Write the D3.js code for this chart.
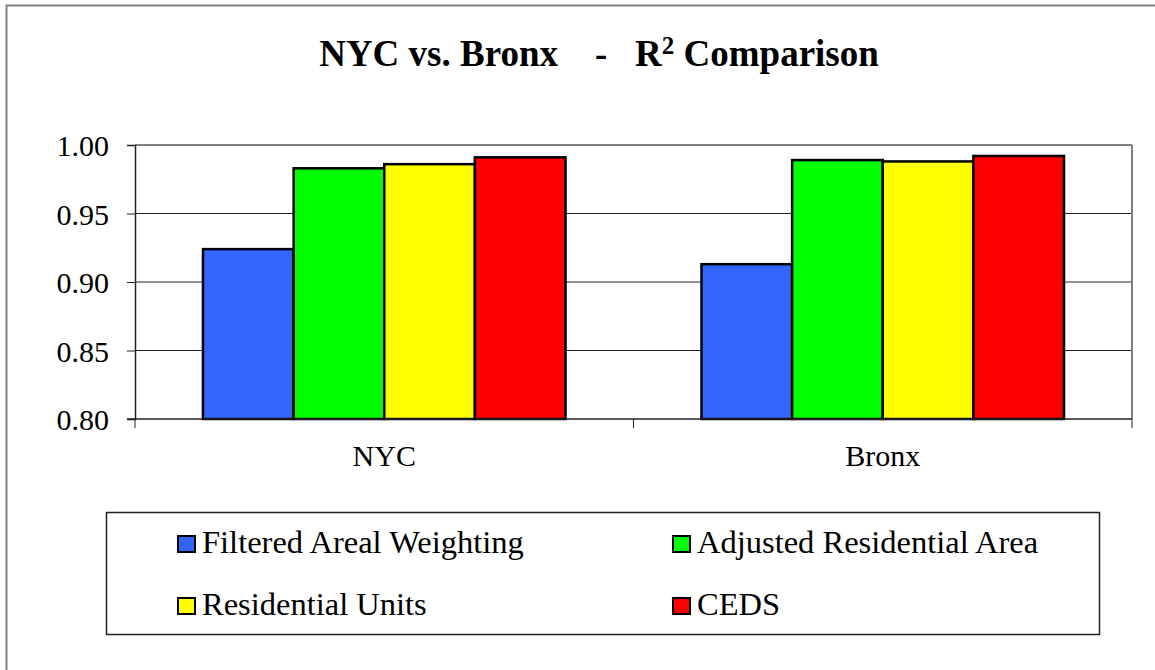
<!DOCTYPE html>
<html>
<head>
<meta charset="utf-8">
<script src="https://cdn.jsdelivr.net/npm/d3@7"></script>
<style>
  body { margin: 0; background: #fff; }
  svg text { font-family: "Liberation Serif", "Times New Roman", serif; fill: #000; }
</style>
</head>
<body>
<svg width="1155" height="670"></svg>
<script>
// data
let categories = ["NYC", "Bronx"];
let series = ["Filtered Areal Weighting", "Adjusted Residential Area", "Residential Units", "CEDS"];
let colors = ["#3366FF", "#00FF00", "#FFFF00", "#FF0000"];
let nycValues = [0.924, 0.983, 0.986, 0.991];
let bronxValues = [0.913, 0.989, 0.988, 0.992];
let yTicks = [0.80, 0.85, 0.90, 0.95, 1.00];

let values = [nycValues, bronxValues];

let width = 1155, height = 670,
    svg = d3.select("svg");

let plotLeft = 135, plotRight = 1132, plotTop = 145, plotBottom = 419;

// outer chart border (right/bottom are off the picture)
svg.append("rect")
    .attr("x", 6.5).attr("y", 5.5)
    .attr("width", 1200).attr("height", 700)
    .attr("fill", "none")
    .attr("stroke", "#808080")
    .attr("stroke-width", 2);

// title
let title = svg.append("text")
    .attr("x", 599).attr("y", 66)
    .attr("text-anchor", "middle")
    .attr("font-weight", "bold")
    .attr("font-size", 37)
    .style("white-space", "pre");
title.append("tspan").text("NYC vs. Bronx    -   R");
title.append("tspan").attr("dy", -12).attr("font-size", 25).text("2");
title.append("tspan").attr("dy", 12).text(" Comparison");

let x0 = d3.scaleBand().domain(categories).range([plotLeft, plotRight]);
let bw = x0.bandwidth(), barW = bw / 5.5;
let x1 = d3.scaleBand().domain(series).range([barW * 0.75, bw - barW * 0.75]);
let y = d3.scaleLinear().domain([0.8, 1.0]).range([plotBottom, plotTop]);

// gridlines
svg.append("g")
    .selectAll("line")
    .data(yTicks.slice(1))
    .enter().append("line")
    .attr("x1", plotLeft).attr("x2", plotRight)
    .attr("y1", d => y(d)).attr("y2", d => y(d))
    .attr("stroke", d => d === 1.0 ? "#808080" : "#222")
    .attr("stroke-width", d => d === 1.0 ? 2 : 1);

// right border of plot area
svg.append("line")
    .attr("x1", plotRight).attr("x2", plotRight)
    .attr("y1", plotTop).attr("y2", plotBottom)
    .attr("stroke", "#808080").attr("stroke-width", 2);

// bars
let groups = svg.append("g")
    .selectAll("g")
    .data(categories)
    .enter().append("g")
    .attr("transform", d => "translate(" + x0(d) + ",0)");

groups.selectAll("rect")
    .data((d, i) => values[i].map((v, j) => ({ s: series[j], v: v, c: colors[j] })))
    .enter().append("rect")
    .attr("x", d => x1(d.s))
    .attr("y", d => y(d.v))
    .attr("width", x1.bandwidth())
    .attr("height", d => plotBottom - y(d.v))
    .attr("fill", d => d.c)
    .attr("stroke", "#000")
    .attr("stroke-width", 2.5);

// y axis
let yAxis = d3.axisLeft(y)
    .tickValues(yTicks)
    .tickFormat(d3.format(".2f"))
    .tickSize(8)
    .tickPadding(18);
let gy = svg.append("g")
    .attr("transform", "translate(" + plotLeft + ",0)")
    .call(yAxis);
gy.select(".domain").attr("stroke", "#222").attr("stroke-width", 1.5);
gy.selectAll(".tick line").attr("stroke", "#222");
gy.selectAll("text").attr("font-size", 30).attr("dy", "0.36em");

// x axis
let gx = svg.append("g")
    .attr("transform", "translate(0," + plotBottom + ")");
gx.append("line")
    .attr("x1", plotLeft - 8).attr("x2", plotRight)
    .attr("stroke", "#222").attr("stroke-width", 1.5);
gx.selectAll(".cat-tick")
    .data([plotLeft, plotLeft + bw, plotRight])
    .enter().append("line")
    .attr("x1", d => d).attr("x2", d => d)
    .attr("y1", 0).attr("y2", 9)
    .attr("stroke", "#222");
gx.selectAll(".cat-label")
    .data(categories)
    .enter().append("text")
    .attr("x", d => x0(d) + bw / 2)
    .attr("y", 47)
    .attr("text-anchor", "middle")
    .attr("font-size", 30)
    .text(d => d);

// legend
let legend = svg.append("g");
legend.append("rect")
    .attr("x", 106.5).attr("y", 512.5)
    .attr("width", 993).attr("height", 122)
    .attr("fill", "#fff")
    .attr("stroke", "#222")
    .attr("stroke-width", 1.5);

let legendPos = [[178, 553], [673, 553], [178, 615], [673, 615]];
let items = legend.selectAll(".item")
    .data(series)
    .enter().append("g")
    .attr("transform", (d, i) => "translate(" + legendPos[i][0] + "," + legendPos[i][1] + ")");
items.append("rect")
    .attr("x", 0).attr("y", -17)
    .attr("width", 17).attr("height", 16)
    .attr("fill", (d, i) => colors[i])
    .attr("stroke", "#000")
    .attr("stroke-width", 2);
items.append("text")
    .attr("x", 24).attr("y", 0)
    .attr("font-size", 32.5)
    .text(d => d);
</script>
</body>
</html>
